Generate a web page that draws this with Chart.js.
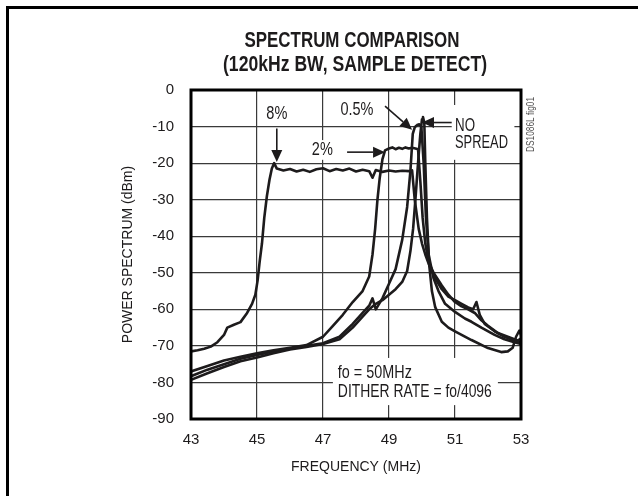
<!DOCTYPE html>
<html>
<head>
<meta charset="utf-8">
<title>Spectrum Comparison</title>
<script src="https://cdn.jsdelivr.net/npm/chart.js@4.4.0/dist/chart.umd.min.js"></script>
<style>
  html, body { margin: 0; padding: 0; background: #fff; }
  #wrap { width: 638px; height: 496px; }
</style>
</head>
<body>
<div id="wrap"><canvas id="chart" width="638" height="496"></canvas></div>
<script>
// tick values
const xTicks = [43, 45, 47, 49, 51, 53];
const yTicks = [0, -10, -20, -30, -40, -50, -60, -70, -80, -90];

// 8% spread
const freq8 = [43.0, 43.2, 43.4, 43.6, 43.8, 44.0, 44.1, 44.3, 44.5, 44.7, 44.85, 44.95, 45.02, 45.08, 45.15, 45.22, 45.3, 45.38, 45.45, 45.52, 45.6,
  45.8, 46.0, 46.2, 46.4, 46.6, 46.8, 47.0, 47.2, 47.4, 47.6, 47.8, 48.0, 48.2, 48.4, 48.5, 48.6, 48.8, 49.0, 49.2, 49.4, 49.6, 49.7,
  49.78, 49.9, 50.0, 50.1, 50.2, 50.4, 50.6, 50.8, 51.0, 51.2, 51.4, 51.55, 51.65, 51.75, 51.9, 52.2, 52.5, 52.8, 53.0];
const dbm8 = [-71.5, -71.2, -70.8, -70.2, -69.0, -67.0, -65.0, -64.2, -63.5, -61.0, -58.5, -56.0, -52.0, -47.0, -42.0, -35.0, -29.0, -24.5, -21.5, -20.0, -21.5,
  -22.0, -21.6, -22.3, -21.8, -22.4, -21.7, -21.4, -22.2, -21.6, -22.0, -21.5, -22.3, -21.8, -22.2, -24.0, -21.9, -22.4, -22.0, -22.3, -22.1, -22.2, -22.0,
  -30.0, -38.0, -42.0, -45.0, -47.5, -51.5, -54.5, -56.5, -57.5, -58.5, -59.5, -60.0, -58.0, -61.5, -64.0, -66.0, -67.5, -68.5, -69.0];

// 2% spread
const freq2 = [43.0, 43.5, 44.0, 44.5, 45.0, 45.5, 46.0, 46.5, 47.0, 47.3, 47.6, 47.9, 48.2, 48.4, 48.5, 48.58, 48.65, 48.72, 48.8, 48.88, 49.0,
  49.1, 49.2, 49.3, 49.4, 49.5, 49.6, 49.7, 49.8, 49.88,
  49.95, 50.02, 50.1, 50.2, 50.35, 50.6, 50.8, 51.0, 51.2, 51.4, 51.6, 51.8, 52.0, 52.3, 52.6, 52.9, 53.0];
const dbm2 = [-77.0, -75.5, -74.0, -73.0, -72.0, -71.2, -70.5, -69.8, -67.5, -64.5, -61.5, -58.0, -55.0, -51.0, -45.0, -38.0, -30.0, -24.0, -19.0, -16.5, -16.0,
  -15.7, -16.2, -15.8, -16.1, -15.7, -16.0, -15.8, -16.0, -16.2,
  -25.0, -35.0, -42.0, -47.0, -50.0, -53.5, -56.0, -58.0, -59.2, -60.0, -61.0, -63.0, -64.5, -66.5, -67.5, -68.5, -68.0];

// 0.5% spread
const freq05 = [43.0, 43.5, 44.0, 44.5, 45.0, 45.5, 46.0, 46.5, 47.0, 47.5, 47.9, 48.2, 48.4, 48.5, 48.6, 48.8, 49.0, 49.2, 49.4, 49.55, 49.65, 49.72,
  49.78, 49.85, 49.92, 49.98, 50.05, 50.12, 50.2, 50.35, 50.5, 50.7, 51.0, 51.3, 51.5, 51.8, 52.2, 52.5, 52.8, 53.0];
const dbm05 = [-78.3, -76.5, -75.0, -73.5, -72.5, -71.5, -70.8, -70.0, -69.3, -67.5, -64.0, -61.0, -59.0, -57.0, -60.0, -57.0, -53.0, -49.0, -41.0, -32.0, -22.0, -12.0,
  -10.2, -9.6, -9.4, -10.0, -20.0, -35.0, -45.0, -51.5, -55.0, -58.5, -60.7, -62.5, -63.4, -65.0, -67.0, -68.2, -69.0, -69.5];

// no spread
const freq0 = [43.0, 43.5, 44.0, 44.5, 45.0, 45.5, 46.0, 46.5, 47.0, 47.5, 47.9, 48.2, 48.4, 48.6, 48.8, 49.0, 49.2, 49.4, 49.55, 49.65, 49.73, 49.8, 49.88, 49.95, 50.0,
  50.03, 50.07, 50.1, 50.15, 50.22, 50.3, 50.4, 50.6, 50.8, 51.0, 51.5, 52.0, 52.4, 52.6, 52.75, 52.85, 52.95, 53.0];
const dbm0 = [-79.3, -77.5, -75.8, -74.2, -73.2, -72.0, -71.0, -70.3, -69.5, -68.2, -65.0, -62.0, -60.0, -58.5, -57.5, -56.0, -54.5, -52.5, -49.5, -44.0, -38.0, -30.0, -20.0, -12.0, -8.0,
  -7.4, -9.0, -20.0, -35.0, -48.0, -55.0, -59.4, -63.4, -65.0, -66.0, -68.4, -70.6, -71.7, -71.5, -70.5, -67.5, -65.8, -67.0];

const ink = '#1d1b1c';
const font = '"Liberation Sans", Arial, sans-serif';

const toPoints = (xs, ys) => xs.map((x, i) => ({ x, y: ys[i] }));
const trace = (label, xs, ys) => ({
  label,
  data: toPoints(xs, ys),
  showLine: true,
  borderColor: ink,
  borderWidth: 2.6,
  pointRadius: 0,
  tension: 0,
  borderJoinStyle: 'round',
  borderCapStyle: 'round'
});

// condensed text: squeeze to a target width
function fitText(ctx, text, x, y, size, width, align, bold) {
  ctx.save();
  ctx.font = (bold ? 'bold ' : '') + size + 'px ' + font;
  const w = ctx.measureText(text).width;
  const k = width / w;
  ctx.translate(x, y);
  ctx.scale(k, 1);
  ctx.textAlign = align;
  ctx.textBaseline = 'middle';
  ctx.fillStyle = ink;
  ctx.fillText(text, 0, 0);
  ctx.restore();
}

function arrow(ctx, x1, y1, x2, y2) {
  const len = 12, half = 5.5;
  const a = Math.atan2(y2 - y1, x2 - x1);
  const bx = x2 - len * Math.cos(a), by = y2 - len * Math.sin(a);
  ctx.save();
  ctx.strokeStyle = ink;
  ctx.fillStyle = ink;
  ctx.lineWidth = 1.6;
  ctx.beginPath();
  ctx.moveTo(x1, y1);
  ctx.lineTo(bx, by);
  ctx.stroke();
  ctx.beginPath();
  ctx.moveTo(x2, y2);
  ctx.lineTo(bx + half * Math.sin(a), by - half * Math.cos(a));
  ctx.lineTo(bx - half * Math.sin(a), by + half * Math.cos(a));
  ctx.closePath();
  ctx.fill();
  ctx.restore();
}

// white boxes behind labels (data units: x0, y0, x1, y1)
const masks = [
  [47.3, -73.3, 52.3, -86.2],
  [50.9, -4.1, 52.8, -19.1],
  [46.6, -13.7, 47.4, -19.1]
];

const decorations = {
  id: 'decorations',
  beforeDatasetsDraw(chart) {
    const { ctx, scales: { x, y } } = chart;
    ctx.save();
    ctx.fillStyle = '#fff';
    masks.forEach(([x0, y0, x1, y1]) => {
      const px = x.getPixelForValue(x0), py = y.getPixelForValue(y0);
      ctx.fillRect(px, py, x.getPixelForValue(x1) - px, y.getPixelForValue(y1) - py);
    });
    ctx.restore();
  },
  afterDraw(chart) {
    const { ctx, chartArea: a, scales: { x, y } } = chart;
    const X = v => x.getPixelForValue(v);
    const Y = v => y.getPixelForValue(v);

    // plot frame
    ctx.save();
    ctx.strokeStyle = '#000';
    ctx.lineWidth = 3;
    ctx.strokeRect(a.left, a.top, a.right - a.left, a.bottom - a.top);
    // page rule, top and left
    ctx.beginPath();
    ctx.moveTo(7.5, 496);
    ctx.lineTo(7.5, 7.5);
    ctx.lineTo(638, 7.5);
    ctx.stroke();
    ctx.restore();

    // title
    fitText(ctx, 'SPECTRUM COMPARISON', 352, 41, 22, 215, 'center', true);
    fitText(ctx, '(120kHz BW, SAMPLE DETECT)', 355, 65, 22, 264, 'center', true);

    // labels
    fitText(ctx, '8%', X(45.6), Y(-6.5), 18, 21, 'center');
    fitText(ctx, '2%', X(46.98), Y(-16.5), 18, 21, 'center');
    fitText(ctx, '0.5%', X(48.03), Y(-5.6), 18, 33, 'center');
    fitText(ctx, 'NO', X(51.0), Y(-9.8), 18, 20, 'left');
    fitText(ctx, 'SPREAD', X(51.0), Y(-14.6), 18, 53, 'left');
    fitText(ctx, 'fo = 50MHz', X(47.45), Y(-77.4), 18, 74, 'left');
    fitText(ctx, 'DITHER RATE = fo/4096', X(47.45), Y(-82.6), 18, 154, 'left');

    // arrows
    arrow(ctx, X(45.6), Y(-10.5), X(45.6), Y(-19.7));
    arrow(ctx, X(47.73), Y(-17.0), X(48.88), Y(-17.0));
    arrow(ctx, X(48.88), Y(-4.4), X(49.70), Y(-10.9));
    arrow(ctx, X(50.9), Y(-8.9), X(50.0), Y(-8.9));

    // figure id, rotated
    ctx.save();
    ctx.translate(531, 124.5);
    ctx.rotate(-Math.PI / 2);
    ctx.globalAlpha = 0.8;
    fitText(ctx, 'DS1086L fig01', 0, 0, 10, 55, 'center');
    ctx.restore();
  }
};

new Chart(document.getElementById('chart'), {
  type: 'scatter',
  data: {
    datasets: [
      trace('8%', freq8, dbm8),
      trace('2%', freq2, dbm2),
      trace('0.5%', freq05, dbm05),
      trace('NO SPREAD', freq0, dbm0)
    ]
  },
  options: {
    responsive: false,
    animation: false,
    layout: {
      padding: { left: 116, right: 117, top: 90, bottom: 17 }
    },
    plugins: {
      legend: { display: false },
      tooltip: { enabled: false }
    },
    scales: {
      x: {
        type: 'linear',
        min: 43,
        max: 53,
        afterBuildTicks: (scale) => { scale.ticks = xTicks.map(value => ({ value })); },
        afterFit: (scale) => { scale.height = 60; },
        grid: { color: '#3a3a3a', lineWidth: 1.2, drawTicks: false },
        border: { display: false },
        ticks: {
          padding: 12,
          color: ink,
          font: { family: font, size: 15 }
        },
        title: {
          display: true,
          text: 'FREQUENCY (MHz)',
          color: ink,
          font: { family: font, size: 14 },
          padding: { top: 0, bottom: 3 }
        }
      },
      y: {
        min: -90,
        max: 0,
        afterBuildTicks: (scale) => { scale.ticks = yTicks.map(value => ({ value })); },
        afterFit: (scale) => { scale.width = 75; },
        grid: { color: '#3a3a3a', lineWidth: 1.2, drawTicks: false },
        border: { display: false },
        ticks: {
          padding: 17,
          color: ink,
          font: { family: font, size: 15 }
        },
        title: {
          display: true,
          text: 'POWER SPECTRUM (dBm)',
          color: ink,
          font: { family: font, size: 14 },
          padding: { top: 4, bottom: 0 }
        }
      }
    }
  },
  plugins: [decorations]
});
</script>
</body>
</html>
